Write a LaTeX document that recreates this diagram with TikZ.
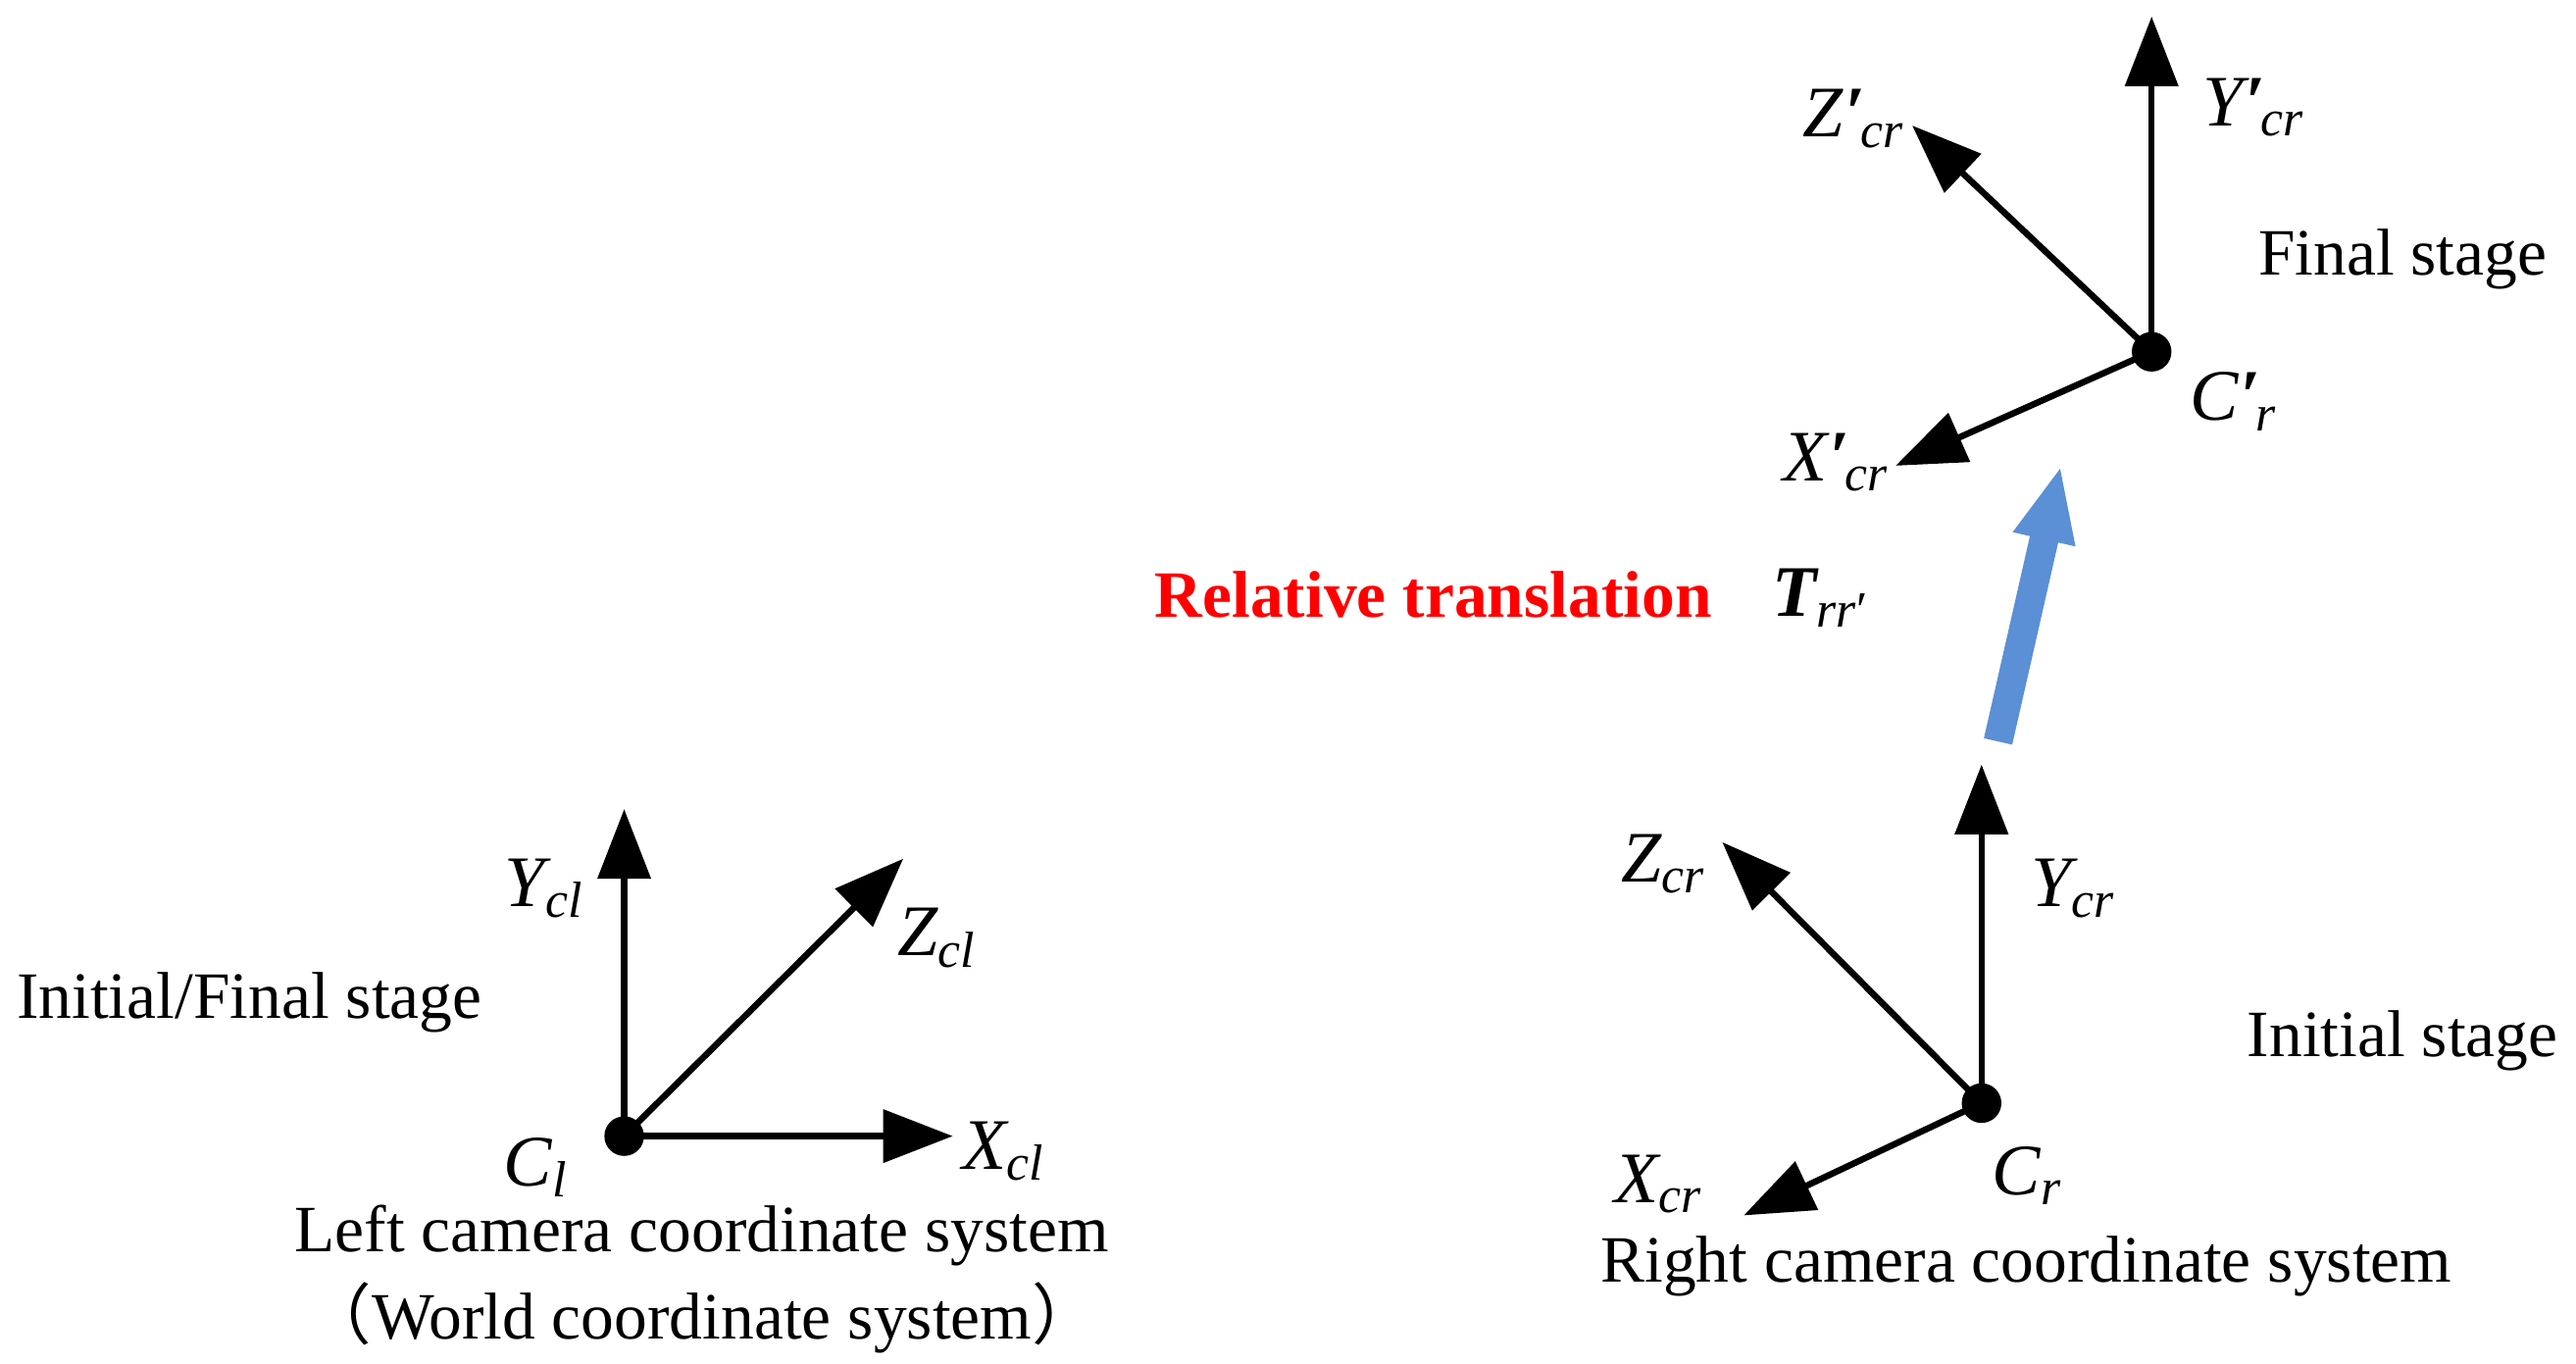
\documentclass[tikz,border=0pt]{standalone}
\usepackage{fontspec}
\setmainfont{Liberation Serif}
\newfontfamily\cjk{Noto Sans CJK SC}
\usetikzlibrary{arrows.meta}
\begin{document}
\begin{tikzpicture}[x=0.01cm,y=-0.01cm,
 ax/.style={line width=1.1pt,-{Triangle[length=12pt,width=9pt]}},
 lab/.style={font=\fontsize{12.5}{14}\selectfont\itshape,inner sep=0pt},
 txt/.style={font=\fontsize{11.4}{13}\selectfont,inner sep=0pt}]
\useasboundingbox (0,0) rectangle (1560,826);
% left
\coordinate (Cl) at (378,688);
\coordinate (Yl) at (378,490);
\coordinate (Zl) at (547,520);
\coordinate (Xl) at (577,688);
\draw[ax] (Cl)--(Yl); \draw[ax] (Cl)--(Zl); \draw[ax] (Cl)--(Xl);
\fill (Cl) circle (12);
\node[lab] (ly) at (330,538) {Y\textsubscript{cl}};
\node[lab] (lz) at (568,568) {Z\textsubscript{cl}};
\node[lab] (lx) at (608,697) {X\textsubscript{cl}};
\node[lab] (lc) at (325,707) {C\textsubscript{l}};
\node[txt] (t1) at (151,607) {Initial/Final stage};
\node[txt] (t2) at (425,748) {Left camera coordinate system};
\node[txt] (t3) at (425,798) {{\cjk （}World coordinate system{\cjk ）}};
% right initial
\coordinate (Cr) at (1200,668);
\coordinate (Yr) at (1200,463);
\coordinate (Zr) at (1043,510);
\coordinate (Xr) at (1056,736);
\draw[ax] (Cr)--(Yr); \draw[ax] (Cr)--(Zr); \draw[ax] (Cr)--(Xr);
\fill (Cr) circle (12);
\node[lab] (rz) at (1008,523) {Z\textsubscript{cr}};
\node[lab] (ry) at (1256,538) {Y\textsubscript{cr}};
\node[lab] (rx) at (1005,717) {X\textsubscript{cr}};
\node[lab] (rc) at (1228,712) {C\textsubscript{r}};
\node[txt] (t4) at (1455,630) {Initial stage};
\node[txt] (t5) at (1227,767) {Right camera coordinate system};
% final
\coordinate (Cf) at (1303,213);
\coordinate (Yf) at (1303,10);
\coordinate (Zf) at (1158,76);
\coordinate (Xf) at (1148,282);
\draw[ax] (Cf)--(Yf); \draw[ax] (Cf)--(Zf); \draw[ax] (Cf)--(Xf);
\fill (Cf) circle (12);
\node[lab] (fz) at (1123,72) {Z\kern0.5pt\textup{\textbf{\char"2032}}\kern-1pt\textsubscript{cr}};
\node[lab] (fy) at (1365,65) {Y\kern0.5pt\textup{\textbf{\char"2032}}\kern-1pt\textsubscript{cr}};
\node[lab] (fx) at (1112,280) {X\kern0.5pt\textup{\textbf{\char"2032}}\kern-1pt\textsubscript{cr}};
\node[lab] (fc) at (1353,243) {C\kern0.5pt\textup{\textbf{\char"2032}}\kern-1pt\textsubscript{r}};
\node[txt] (t6) at (1455,157) {Final stage};
% translation
\coordinate (b0) at (1210,449);
\coordinate (b1) at (1248,282);
\draw[line width=5pt,color={rgb,255:red,91;green,143;blue,214},-{Triangle[length=13pt,width=10pt]}] (b0)--(b1);
\node[txt,font=\fontsize{11.4}{13}\selectfont\bfseries,text=red] (rt) at (868,360) {Relative translation};
\node[lab,font=\fontsize{12.5}{14}\selectfont\bfseries\itshape] (T) at (1103,362) {T\textsubscript{\mdseries rr\textup{\char"2032}}};
\end{tikzpicture}
\end{document}
